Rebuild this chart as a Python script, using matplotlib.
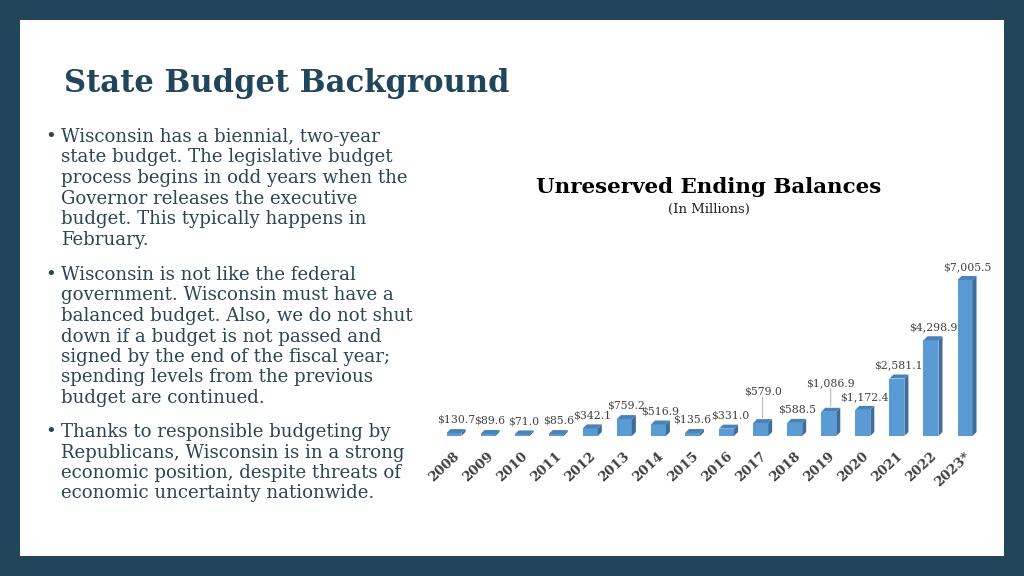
"""State budget slide: unreserved ending balances bar chart with 3D-style bars."""

import matplotlib

matplotlib.use("Agg")
import matplotlib.pyplot as plt
from matplotlib.patches import Polygon, Rectangle

years = ["2008", "2009", "2010", "2011", "2012", "2013", "2014", "2015",
         "2016", "2017", "2018", "2019", "2020", "2021", "2022", "2023*"]
balances = [130.7, 89.6, 71.0, 85.6, 342.1, 759.2, 516.9, 135.6,
            331.0, 579.0, 588.5, 1086.9, 1172.4, 2581.1, 4298.9, 7005.5]

bullets = [
    ["Wisconsin has a biennial, two-year",
     "state budget. The legislative budget",
     "process begins in odd years when the",
     "Governor releases the executive",
     "budget. This typically happens in",
     "February."],
    ["Wisconsin is not like the federal",
     "government. Wisconsin must have a",
     "balanced budget. Also, we do not shut",
     "down if a budget is not passed and",
     "signed by the end of the fiscal year;",
     "spending levels from the previous",
     "budget are continued."],
    ["Thanks to responsible budgeting by",
     "Republicans, Wisconsin is in a strong",
     "economic position, despite threats of",
     "economic uncertainty nationwide."],
]

W, H = 1024, 576
NAVY = "#21465b"
TEXT = "#2a4554"
SERIF = "DejaVu Serif"


def fx(x):
    return x / W


def fy(y):
    return 1 - y / H


fig = plt.figure(figsize=(W / 100, H / 100), dpi=100, facecolor=NAVY)
fig.patches.append(Rectangle((fx(20), fy(556)), fx(984), 536 / H,
                             transform=fig.transFigure, facecolor="white",
                             edgecolor="none", zorder=-5))

fig.text(fx(64), fy(92), "State Budget Background", family=SERIF,
         weight="bold", fontsize=22.1, color=NAVY, va="baseline")

# bullet text, baseline of first line of each bullet
starts = [142, 280, 437]
for lines, y0 in zip(bullets, starts):
    fig.text(fx(45), fy(y0), "•", family=SERIF, fontsize=13, color=TEXT,
             va="baseline")
    for k, line in enumerate(lines):
        fig.text(fx(61), fy(y0 + 20.5 * k), line, family=SERIF, fontsize=13.1,
                 color=TEXT, va="baseline")

fig.text(fx(709), fy(193), "Unreserved Ending Balances", family=SERIF,
         weight="bold", fontsize=15.4, color="black", ha="center",
         va="baseline")
fig.text(fx(709), fy(213), "(In Millions)", family=SERIF, fontsize=9.5,
         color="#222222", ha="center", va="baseline")

# chart axes: bar pitch ~34 px, baseline at y=436
pitch = 34.07
ymax = 8000
ax = fig.add_axes([fx(454 - pitch / 2), fy(436), 16 * pitch / W,
                   ymax * 0.02227 / H])
ax.set_xlim(-0.5, 15.5)
ax.set_ylim(0, ymax)
ax.axis("off")

bw = 0.44
dx = 4 / pitch
dy = 4 / 0.02227
xs = list(range(len(years)))
ax.bar(xs, balances, width=bw, color="#5b9bd5", zorder=3, clip_on=False)
for x, v in zip(xs, balances):
    x0, x1 = x - bw / 2, x + bw / 2
    ax.add_patch(Polygon([(x1, 0), (x1 + dx, dy), (x1 + dx, v + dy), (x1, v)],
                         closed=True, facecolor="#3c6d9c", edgecolor="none",
                         zorder=3, clip_on=False))
    ax.add_patch(Polygon([(x0, v), (x1, v), (x1 + dx, v + dy), (x0 + dx, v + dy)],
                         closed=True, facecolor="#4a82b8", edgecolor="none",
                         zorder=3, clip_on=False))

# label nudges (points) where the original places labels away from the bar
raised = {"2017": 13, "2019": 11}
shift = {"2015": -1.5, "2016": 1.5}
for x, v, yr in zip(xs, balances, years):
    txt = f"${v:,.1f}"
    lift = raised.get(yr, 0)
    ax.annotate(txt, (x + dx / 2, v + dy), xytext=(shift.get(yr, 0), 3 + lift),
                textcoords="offset points", ha="center", va="bottom",
                family=SERIF, fontsize=7.8, color="#404040", zorder=4,
                annotation_clip=False)
    if lift:
        ax.annotate("", (x + dx / 2, v + dy), xytext=(0, 3 + lift),
                    textcoords="offset points",
                    arrowprops=dict(arrowstyle="-", color="#a6a6a6", lw=0.6,
                                    shrinkA=0, shrinkB=1),
                    annotation_clip=False)
    ax.annotate(yr, (x - 0.02, 0), xytext=(0, -10), textcoords="offset points",
                ha="right", va="top", rotation=43, rotation_mode="anchor",
                family=SERIF, weight="bold", fontsize=9.5, color="#404040",
                annotation_clip=False)

fig.savefig("out.png", dpi=100, facecolor=NAVY)
